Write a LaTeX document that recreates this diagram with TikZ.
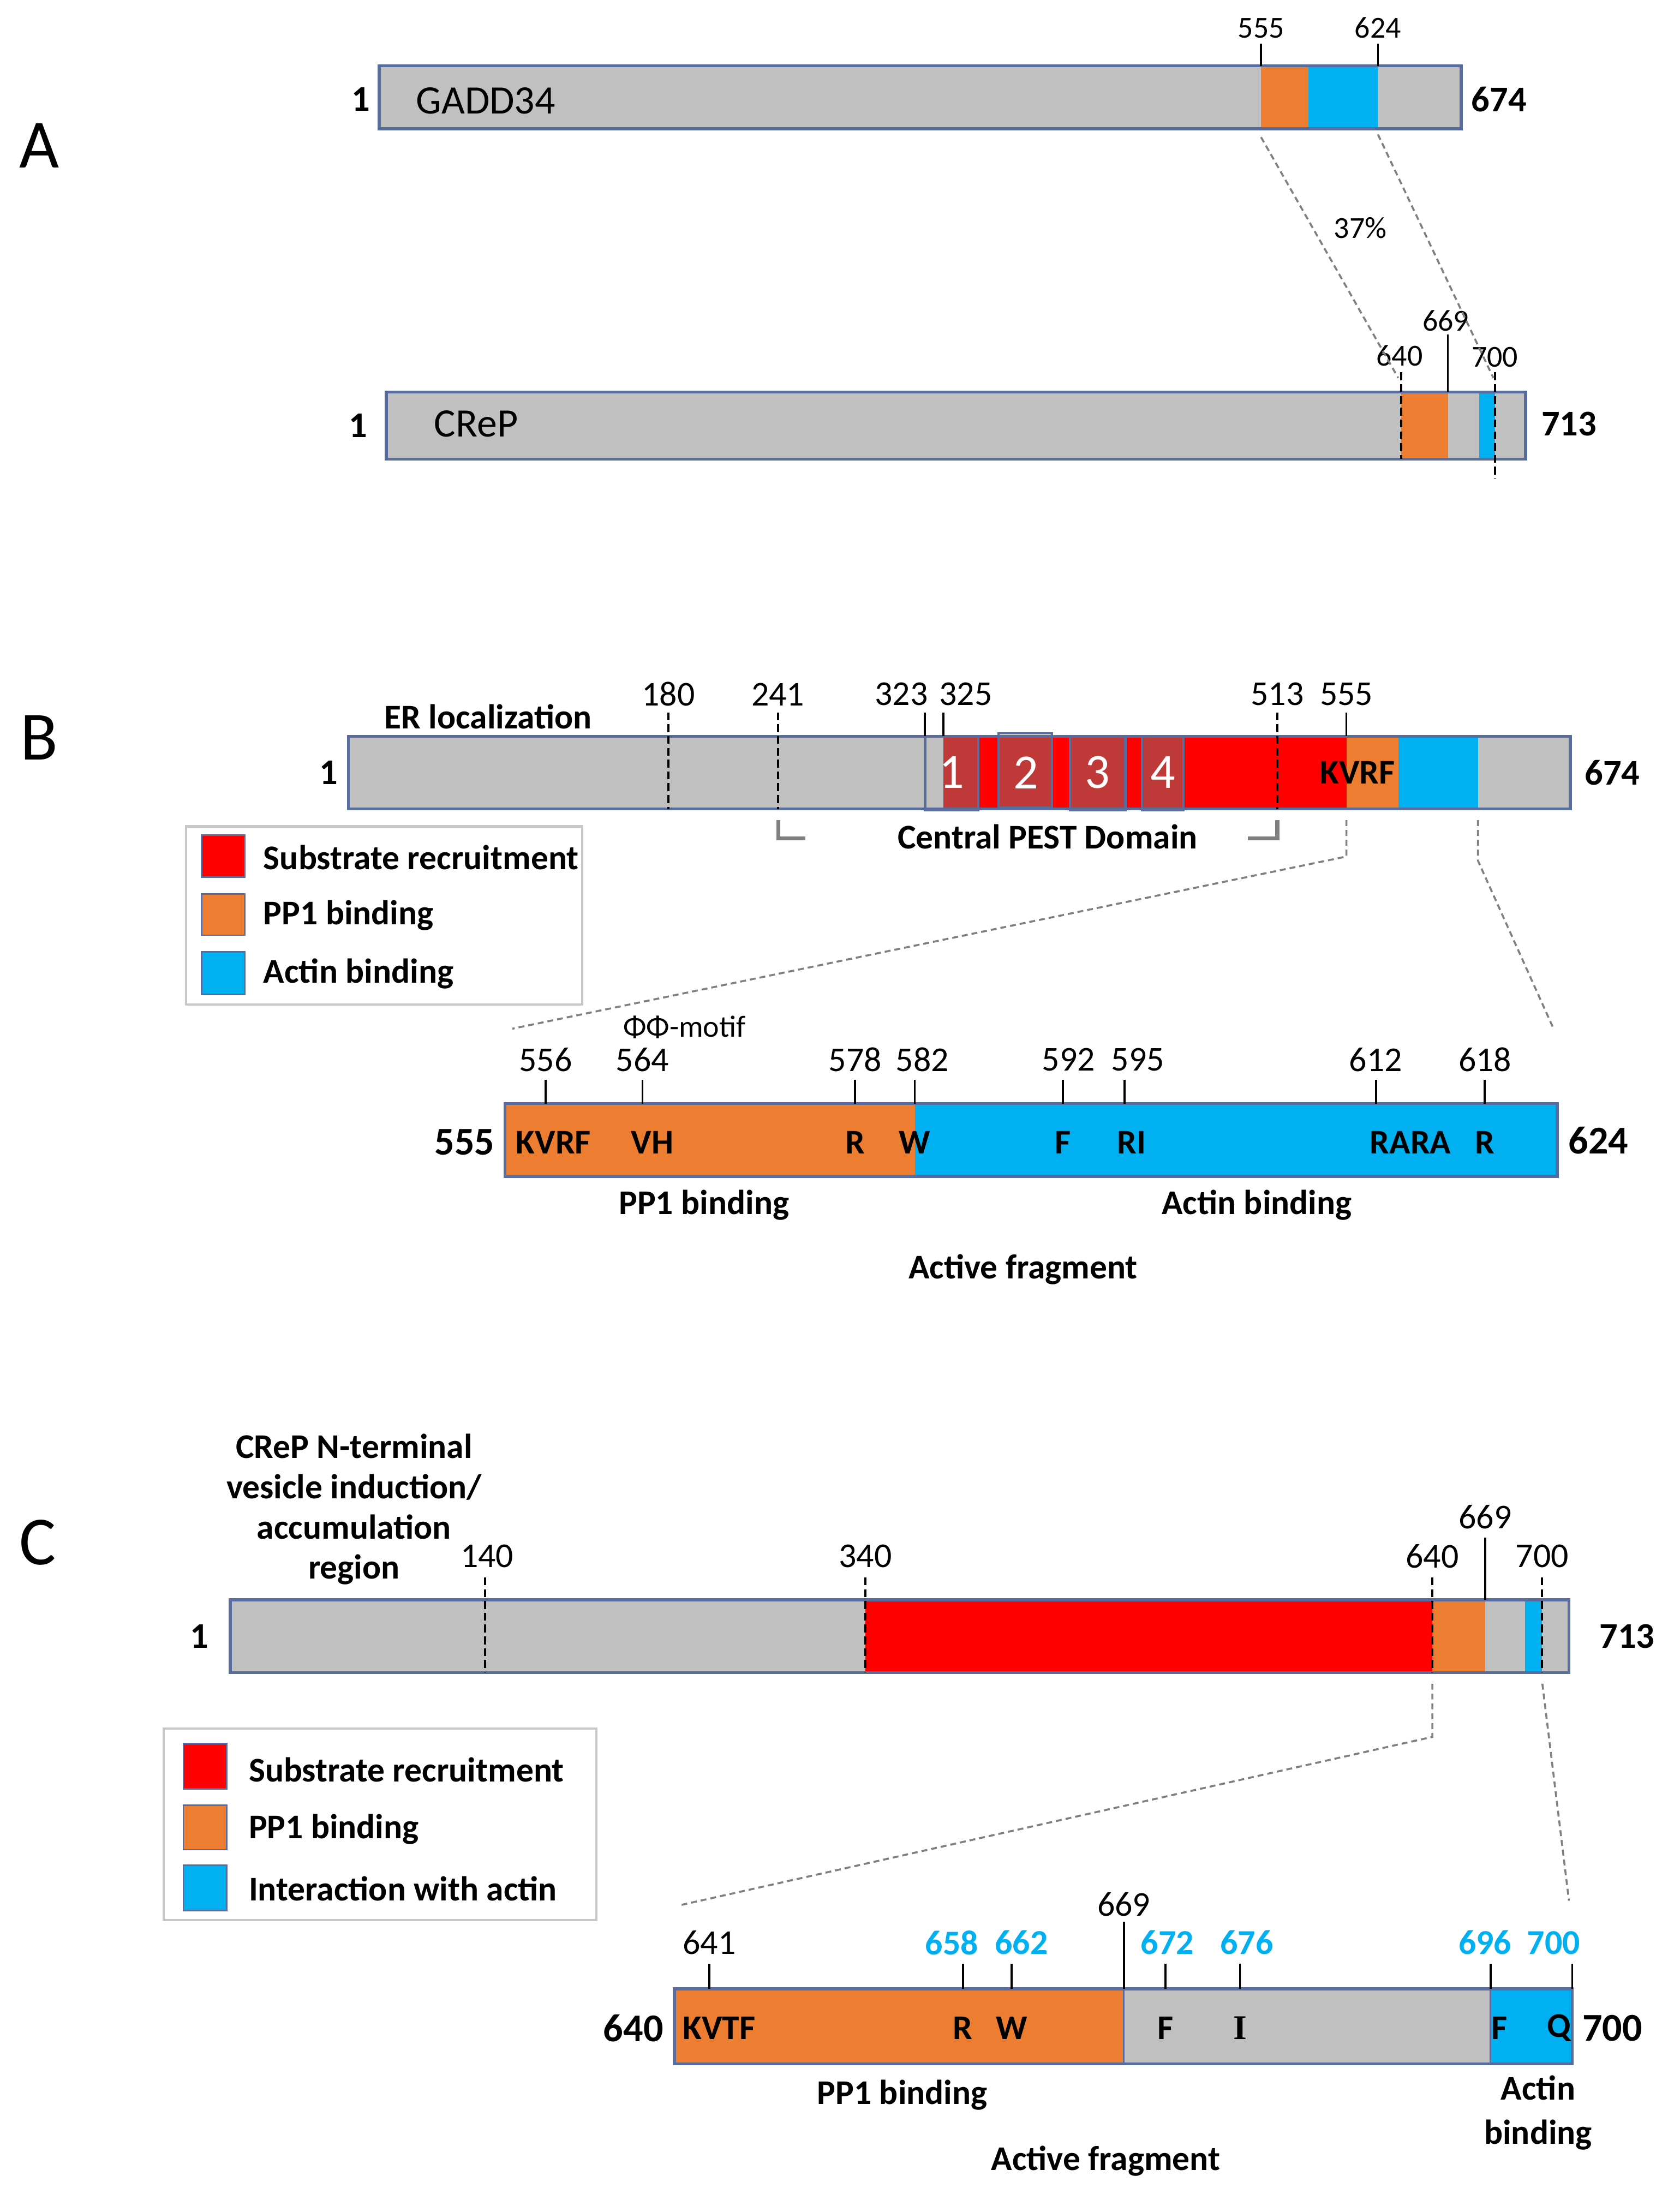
\documentclass[tikz,border=0pt]{standalone}
\usepackage{fontspec}
\setmainfont{Carlito}
\newfontfamily\serifI{Liberation Serif}
\usepackage{tikz}
\definecolor{grey}{RGB}{192,192,192}
\definecolor{orng}{RGB}{237,125,49}
\definecolor{actin}{RGB}{0,176,240}
\definecolor{pestbox}{RGB}{192,57,57}
\definecolor{barline}{RGB}{88,108,158}
\definecolor{zoomgray}{RGB}{128,128,128}
\definecolor{legline}{RGB}{200,200,200}

\begin{document}
\begin{tikzpicture}[x=0.025cm,y=-0.025cm]
    \tikzstyle{barout}=[draw=barline, line width=1.5pt]
    \tikzstyle{swatch}=[draw=barline, line width=0.8pt]
    \tikzstyle{tickln}=[black, line width=1pt]
    \tikzstyle{cutln}=[black, line width=1.1pt, dash pattern=on 4pt off 2pt]
    \tikzstyle{zoomline}=[zoomgray, line width=1pt, dash pattern=on 3pt off 2pt]
    \tikzstyle{txt}=[inner sep=0pt]
    \tikzstyle{numA}=[txt, font=\fontsize{15.5}{18}\selectfont]
    \tikzstyle{num}=[txt, font=\fontsize{17.7}{20}\selectfont]
    \tikzstyle{bluenum}=[num, text=actin, font=\bfseries\fontsize{17.7}{20}\selectfont]
    \tikzstyle{term}=[txt, font=\bfseries\fontsize{18.4}{21}\selectfont]
    \tikzstyle{termbig}=[txt, font=\bfseries\fontsize{20}{23}\selectfont]
    \tikzstyle{lab}=[txt, font=\bfseries\fontsize{17.6}{20.3}\selectfont]
    \tikzstyle{protname}=[txt, font=\fontsize{20.5}{24}\selectfont]
    \tikzstyle{panellet}=[txt, font=\fontsize{35}{40}\selectfont]
    \tikzstyle{boxnum}=[txt, text=white, font=\fontsize{25}{28}\selectfont]

    \useasboundingbox (0,0) rectangle (1200,1567.6);

    % ---------- A ----------
    \node[panellet] (pA) at (28,104) {A};

    \fill[grey] (271,47) rectangle (1044,92);
    \fill[orng] (901,47) rectangle (935,92);
    \fill[actin] (935,47) rectangle (984.5,92);
    \draw[barout] (271,47) rectangle (1044,92);
    \draw[tickln] (901,31) -- (901,47);
    \draw[tickln] (984.5,31) -- (984.5,47);
    \node[numA] (g555) at (901,20) {555};
    \node[numA] (g624) at (984.5,20) {624};
    \node[protname, anchor=west] (gadd) at (297,72) {GADD34};
    \node[term] (gone) at (258,71) {1};
    \node[term] (gend) at (1071,71) {674};

    \fill[grey] (276,280) rectangle (1090,328);
    \fill[orng] (1001,280) rectangle (1034.5,328);
    \fill[actin] (1057,280) rectangle (1068,328);
    \draw[barout] (276,280) rectangle (1090,328);
    \draw[tickln] (1034.5,239) -- (1034.5,280);
    \draw[cutln] (1001,266) -- (1001,328);
    \draw[cutln] (1068,266) -- (1068,342);
    \node[numA] (c640) at (1000,254) {640};
    \node[numA] (c669) at (1033,229) {669};
    \node[numA] (c700) at (1068,255) {700};
    \node[protname, anchor=west] (crep) at (310,303) {CReP};
    \node[term] (cone) at (256,304) {1};
    \node[term] (cend) at (1121,303) {713};

    \coordinate (zA1) at (901,98);
    \coordinate (zA2) at (999,270);
    \coordinate (zA3) at (984.5,96);
    \coordinate (zA4) at (1067,270);
    \draw[zoomline] (zA1) -- (zA2);
    \draw[zoomline] (zA3) -- (zA4);
    \node[numA] (ident) at (972,163) {37\%};

    % ---------- B ----------
    \node[panellet] (pB) at (28,527) {B};

    \fill[grey] (249,526) rectangle (1122,578);
    \fill[red] (674,526) rectangle (962,578);
    \fill[orng] (962,526) rectangle (999,578);
    \fill[actin] (999,526) rectangle (1056,578);
    \fill[pestbox] (674,526) rectangle (699,578);
    \fill[pestbox] (713.4,525) rectangle (751.6,577);
    \fill[pestbox] (764.6,526) rectangle (804,578);
    \fill[pestbox] (816,526) rectangle (845.7,578);
    \draw[barout] (249,526) rectangle (1122,578);
    \draw[swatch, line width=1.2pt] (661,526) rectangle (699,579);
    \draw[swatch, line width=1.2pt] (713.4,524) rectangle (751.6,577);
    \draw[swatch, line width=1.2pt] (764.6,526) rectangle (804,579);
    \draw[swatch, line width=1.2pt] (816,526) rectangle (845.7,579);
    \node[boxnum] (m1) at (680,552) {1};
    \node[boxnum] (m2) at (733,552) {2};
    \node[boxnum] (m3) at (784,552) {3};
    \node[boxnum] (m4) at (831,552) {4};

    \draw[cutln] (477.6,509) -- (477.6,578);
    \draw[cutln] (555.8,509) -- (555.8,578);
    \draw[cutln] (912.6,509) -- (912.6,578);
    \draw[tickln] (660.8,509) -- (660.8,526);
    \draw[tickln] (674,509) -- (674,526);
    \draw[tickln] (962,509) -- (962,526);
    \node[num] (b180) at (477.6,496) {180};
    \node[num] (b241) at (555.8,496) {241};
    \node[num] (b323) at (644,496) {323};
    \node[num] (b325) at (690,496) {325};
    \node[num] (b513) at (912.6,496) {513};
    \node[num] (b555) at (962,496) {555};
    \node[lab] (erloc) at (348.8,512) {ER localization};
    \node[term] (bone) at (235,552) {1};
    \node[term] (bend) at (1152,552) {674};
    \node[lab] (kvrf) at (970,552) {KVRF};

    \draw[zoomgray, line width=2pt] (556,586) -- (556,599) -- (575.5,599);
    \draw[zoomgray, line width=2pt] (912.6,586) -- (912.6,599) -- (891.6,599);
    \node[lab] (pest) at (748.5,598) {Central PEST Domain};

    % legend
    \draw[legline, line width=1.2pt] (133,590.4) rectangle (416,717.6);
    \fill[red] (144,596.7) rectangle (175,626.7);
    \fill[orng] (144,638.6) rectangle (175,668.2);
    \fill[actin] (144,680) rectangle (175,710.4);
    \draw[swatch] (144,596.7) rectangle (175,626.7);
    \draw[swatch] (144,638.6) rectangle (175,668.2);
    \draw[swatch] (144,680) rectangle (175,710.4);
    \node[lab, anchor=west] (legB1) at (188,612.8) {Substrate recruitment};
    \node[lab, anchor=west] (legB2) at (188,654) {PP1 binding};
    \node[lab, anchor=west] (legB3) at (188,695.6) {Actin binding};

    % zoom lines
    \coordinate (zB1) at (962,586);
    \coordinate (zB2) at (962,612);
    \coordinate (zB3) at (366,735);
    \coordinate (zB4) at (1056,586);
    \coordinate (zB5) at (1056,615);
    \coordinate (zB6) at (1110,735);
    \draw[zoomline] (zB1) -- (zB2) -- (zB3);
    \draw[zoomline] (zB4) -- (zB5) -- (zB6);

    % active fragment of GADD34
    \fill[orng] (360.7,788.5) rectangle (653.6,840.5);
    \fill[actin] (653.6,788.5) rectangle (1112.6,840.5);
    \draw[barout] (360.7,788.5) rectangle (1112.6,840.5);
    \draw[tickln] (389.9,771.7) -- (389.9,788.5);
    \draw[tickln] (459,771.7) -- (459,788.5);
    \draw[tickln] (611,771.7) -- (611,788.5);
    \draw[tickln] (653.6,771.7) -- (653.6,788.5);
    \draw[tickln] (759.5,771.7) -- (759.5,788.5);
    \draw[tickln] (803.5,771.7) -- (803.5,788.5);
    \draw[tickln] (983.3,771.7) -- (983.3,788.5);
    \draw[tickln] (1060.8,771.7) -- (1060.8,788.5);
    \node[num] (f556) at (389.9,757) {556};
    \node[num] (f564) at (459,757) {564};
    \node[num] (f578) at (611,757) {578};
    \node[num] (f582) at (659,757) {582};
    \node[num] (f592) at (763.5,757) {592};
    \node[num] (f595) at (813,757) {595};
    \node[num] (f612) at (983,757) {612};
    \node[num] (f618) at (1061,757) {618};
    \node[numA] (phi) at (489,734) {ΦΦ-motif};
    \node[termbig] (fstart) at (332,816) {555};
    \node[termbig] (fend) at (1142,815) {624};
    \node[lab] (r1) at (395.5,816.5) {KVRF};
    \node[lab] (r2) at (466,816.5) {VH};
    \node[lab] (r3) at (611,816.5) {R};
    \node[lab] (r4) at (653.6,816.5) {W};
    \node[lab] (r5) at (759.5,816.5) {F};
    \node[lab] (r6) at (808.6,816.5) {RI};
    \node[lab] (r7) at (1007.8,816.5) {RARA};
    \node[lab] (r8) at (1061,816.5) {R};
    \node[lab] (fpp1) at (503,861) {PP1 binding};
    \node[lab] (factin) at (898,861) {Actin binding};
    \node[lab] (factive) at (731,907) {Active fragment};

    % ---------- C ----------
    \node[panellet] (pC) at (27,1102) {C};
    \node[lab, align=center, font=\bfseries\fontsize{17.6}{20.4}\selectfont] (nterm) at (253,1078.5)
        {CReP N-terminal\\vesicle induction/\\accumulation\\region};

    \fill[grey] (164.5,1143) rectangle (1121,1195);
    \fill[red] (618.3,1143) rectangle (1023.4,1195);
    \fill[orng] (1023.4,1143) rectangle (1061.2,1195);
    \fill[actin] (1089.7,1143) rectangle (1101.8,1195);
    \draw[barout] (164.5,1143) rectangle (1121,1195);
    \draw[cutln] (346.6,1127) -- (346.6,1195);
    \draw[cutln] (618.3,1127) -- (618.3,1195);
    \draw[cutln] (1023.4,1127) -- (1023.4,1195);
    \draw[cutln] (1101.8,1127) -- (1101.8,1195);
    \draw[tickln] (1061.2,1098.6) -- (1061.2,1143);
    \node[num] (k140) at (348,1112) {140};
    \node[num] (k340) at (618.3,1112) {340};
    \node[num] (k640) at (1023.4,1112) {640};
    \node[num] (k700) at (1101.8,1112) {700};
    \node[num] (k669) at (1061.2,1084) {669};
    \node[term] (kone) at (142.6,1169) {1};
    \node[term] (kend) at (1162.5,1169) {713};

    % legend
    \draw[legline, line width=1.2pt] (117,1235) rectangle (426,1372);
    \fill[red] (131,1245.6) rectangle (162,1278);
    \fill[orng] (131,1289.8) rectangle (162,1321.6);
    \fill[actin] (131,1332.6) rectangle (162,1365);
    \draw[swatch] (131,1245.6) rectangle (162,1278);
    \draw[swatch] (131,1289.8) rectangle (162,1321.6);
    \draw[swatch] (131,1332.6) rectangle (162,1365);
    \node[lab, anchor=west] (legC1) at (177.5,1264.4) {Substrate recruitment};
    \node[lab, anchor=west] (legC2) at (177.5,1307) {PP1 binding};
    \node[lab, anchor=west] (legC3) at (177.5,1349.5) {Interaction with actin};

    % zoom lines
    \coordinate (zC1) at (1023.4,1203);
    \coordinate (zC2) at (1023.4,1241);
    \coordinate (zC3) at (487,1361);
    \coordinate (zC4) at (1102,1203);
    \coordinate (zC5) at (1121,1358);
    \draw[zoomline] (zC1) -- (zC2) -- (zC3);
    \draw[zoomline] (zC4) -- (zC5);

    % active fragment of CReP
    \fill[orng] (481.8,1421) rectangle (803,1474.7);
    \fill[grey] (803,1421) rectangle (1065,1474.7);
    \fill[actin] (1065,1421) rectangle (1123.3,1474.7);
    \draw[barline, line width=0.8pt] (803,1421) -- (803,1474.7);
    \draw[barline, line width=0.8pt] (1065,1421) -- (1065,1474.7);
    \draw[barout] (481.8,1421) rectangle (1123.3,1474.7);
    \draw[tickln] (506.8,1403) -- (506.8,1421);
    \draw[tickln] (688,1403) -- (688,1421);
    \draw[tickln] (722.7,1403) -- (722.7,1421);
    \draw[tickln] (803,1373) -- (803,1421);
    \draw[tickln] (832.7,1403) -- (832.7,1421);
    \draw[tickln] (886,1403) -- (886,1421);
    \draw[tickln] (1065,1403) -- (1065,1421);
    \draw[tickln] (1123.3,1403) -- (1123.3,1421);
    \node[num] (h641) at (506.8,1388) {641};
    \node[bluenum] (h658) at (680,1388) {658};
    \node[bluenum] (h662) at (729.8,1388) {662};
    \node[num] (h669) at (803,1360.6) {669};
    \node[bluenum] (h672) at (834,1388) {672};
    \node[bluenum] (h676) at (890.8,1388) {676};
    \node[bluenum] (h696) at (1061,1388) {696};
    \node[bluenum] (h700) at (1110,1388) {700};
    \node[termbig] (hstart) at (452.5,1449) {640};
    \node[termbig] (hend) at (1152,1449) {700};
    \node[lab] (s1) at (513.8,1449) {KVTF};
    \node[lab] (s2) at (688,1449) {R};
    \node[lab] (s3) at (722.7,1449) {W};
    \node[lab] (s4) at (832.7,1449) {F};
    \node[lab] (s5) at (886,1449) {\serifI I};
    \node[lab] (s6) at (1071.4,1449) {F};
    \node[lab] (s7) at (1113.9,1449) {Q};
    \node[lab] (hpp1) at (644.7,1497) {PP1 binding};
    \node[lab, align=center, font=\bfseries\fontsize{17.6}{22.3}\selectfont] (hactin) at (1099,1509.5) {Actin\\binding};
    \node[lab] (hactive) at (790,1544) {Active fragment};
\end{tikzpicture}
\end{document}
